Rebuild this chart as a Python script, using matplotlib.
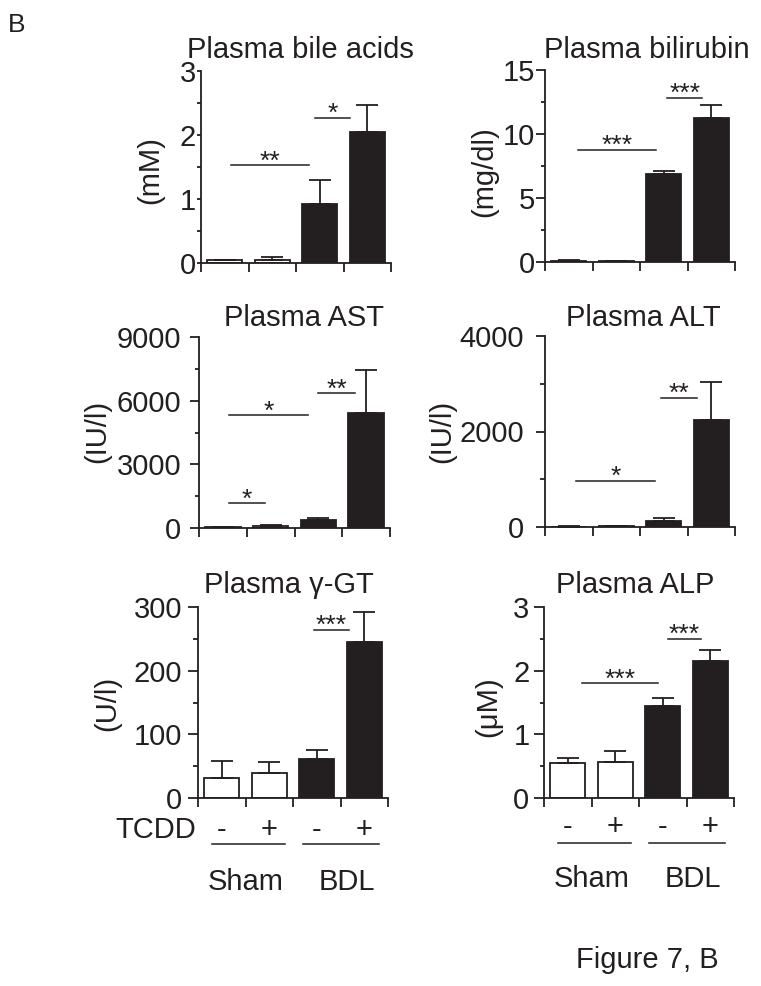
import matplotlib.pyplot as plt
from matplotlib.ticker import MultipleLocator

plt.rcParams['font.family'] = ['Liberation Sans', 'DejaVu Sans']

W, H = 761, 986
INK = '#231f20'
LW = 1.3

# groups: Sham -, Sham +, BDL -, BDL +
groups = ['Sham -', 'Sham +', 'BDL -', 'BDL +']
tcdd_labels = ['-', '+', '-', '+']
bar_colors = ['white', 'white', INK, INK]

titles = ['Plasma bile acids', 'Plasma bilirubin', 'Plasma AST',
          'Plasma ALT', 'Plasma \u03b3-GT', 'Plasma ALP']
units = ['(mM)', '(mg/dl)', '(IU/l)', '(IU/l)', '(U/l)', '(\u03bcM)']
y_max = [3, 15, 9000, 4000, 300, 3]
y_major = [1, 5, 3000, 2000, 100, 1]

bile_mean = [0.04, 0.05, 0.92, 2.04]
bile_err = [0.01, 0.05, 0.37, 0.43]
bili_mean = [0.10, 0.07, 6.87, 11.26]
bili_err = [0.02, 0.02, 0.26, 1.04]
ast_mean = [50, 100, 360, 5440]
ast_err = [20, 30, 130, 1990]
alt_mean = [8, 15, 117, 2246]
alt_err = [3, 5, 63, 787]
ggt_mean = [31.4, 39.9, 61.3, 245]
ggt_err = [27.3, 17.3, 13.7, 46.7]
alp_mean = [0.55, 0.56, 1.45, 2.15]
alp_err = [0.08, 0.185, 0.12, 0.17]

means = [bile_mean, bili_mean, ast_mean, alt_mean, ggt_mean, alp_mean]
errs = [bile_err, bili_err, ast_err, alt_err, ggt_err, alp_err]

# significance bars: (label, x start, x end, height)
sig_bile = [('**', 0.13, 1.77, 1.53), ('*', 1.90, 2.64, 2.27)]
sig_bili = [('***', 0.19, 1.84, 8.78), ('***', 2.07, 2.81, 12.85)]
sig_ast = [('*', 0.12, 0.88, 1180), ('*', 0.12, 1.79, 5310), ('**', 2.0, 2.76, 6360)]
sig_alt = [('*', 0.16, 1.81, 973), ('**', 1.95, 2.70, 2706)]
sig_ggt = [('***', 1.94, 2.68, 264.5)]
sig_alp = [('***', 0.29, 1.91, 1.80), ('***', 2.10, 2.81, 2.50)]
sigs = [sig_bile, sig_bili, sig_ast, sig_alt, sig_ggt, sig_alp]

# layout in pixels: (left, top, width, height)
boxes = [(201, 71, 190, 192), (545, 70, 190, 192),
         (199, 337, 191, 191), (545, 336, 190, 191),
         (198, 607, 190, 191), (544, 607, 190, 191)]
title_pos = [(300, 58), (647, 58), (304, 326), (643, 326), (289, 593), (635, 593)]
unit_pos = [(150, 170), (484, 172), (97, 431), (442, 431), (107, 703), (488, 707)]
major_len_px = [4.5, 9, 9, 9, 10, 10]
minor_len_px = [4.5, 4.5, 4.5, 5.5, 5.5, 4.5]
label_gap_px = [0.5, 1, 9, 12, 6, 4.5]

px = 72 / 100  # pixels -> points at dpi 100
FS = 21

fig = plt.figure(figsize=(W / 100, H / 100), dpi=100)
fig.patch.set_facecolor('white')

x = list(range(len(groups)))
axes = []
for i in range(6):
    l, t, w, h = boxes[i]
    ax = fig.add_axes([l / W, 1 - (t + h) / H, w / W, h / H])
    axes.append(ax)

    ax.bar(x, means[i], width=0.74, color=bar_colors, edgecolor=INK,
           linewidth=LW, zorder=2)
    ax.errorbar(x, means[i], yerr=[[0] * 4, errs[i]], fmt='none',
                ecolor=INK, elinewidth=LW, capsize=8, capthick=LW,
                zorder=3, clip_on=False)

    for lab, x0, x1, yy in sigs[i]:
        ax.plot([x0, x1], [yy, yy], color=INK, lw=1.1, clip_on=False)
        ax.annotate(lab, xy=((x0 + x1) / 2, yy), xytext=(0, -2.5),
                    textcoords='offset points', ha='center', va='baseline',
                    fontsize=19, color=INK)

    ax.set_xlim(-0.5, 3.5)
    ax.set_ylim(0, y_max[i])
    ax.set_xticks([-0.5, 0.5, 1.5, 2.5, 3.5])
    ax.set_xticklabels([])
    ax.yaxis.set_major_locator(MultipleLocator(y_major[i]))
    ax.yaxis.set_minor_locator(MultipleLocator(y_major[i] / 2))
    ax.tick_params(axis='x', length=8.7 * px, width=LW, color=INK)
    ax.tick_params(axis='y', which='major', length=major_len_px[i] * px,
                   width=LW, color=INK, pad=label_gap_px[i] * px,
                   labelsize=FS, labelcolor=INK)
    ax.tick_params(axis='y', which='minor', length=minor_len_px[i] * px,
                   width=LW, color=INK)
    for side in ['top', 'right']:
        ax.spines[side].set_visible(False)
    for side in ['left', 'bottom']:
        ax.spines[side].set_linewidth(LW)
        ax.spines[side].set_color(INK)

    tx, ty = title_pos[i]
    fig.text(tx / W, 1 - ty / H, titles[i], ha='center', va='baseline',
             fontsize=FS, color=INK)
    ux, uy = unit_pos[i]
    fig.text(ux / W, 1 - uy / H, units[i], ha='center', va='center',
             rotation=90, fontsize=FS, color=INK)

# treatment labels under the bottom row
for ax, tcdd_y, line_y, grp_y in [(axes[4], -0.209, -0.242, -0.482),
                                  (axes[5], -0.194, -0.234, -0.464)]:
    tr = ax.get_xaxis_transform()
    for xi, lab in zip(x, tcdd_labels):
        ax.text(xi, tcdd_y, lab, transform=tr, ha='center', va='baseline',
                fontsize=FS, color=INK)
    ax.plot([-0.2, 1.33], [line_y, line_y], transform=tr, color=INK,
            lw=1.1, clip_on=False)
    ax.plot([1.72, 3.3], [line_y, line_y], transform=tr, color=INK,
            lw=1.1, clip_on=False)
    ax.text(0.51, grp_y, 'Sham', transform=tr, ha='center', va='baseline',
            fontsize=FS, color=INK)
    ax.text(2.64, grp_y, 'BDL', transform=tr, ha='center', va='baseline',
            fontsize=FS, color=INK)

fig.text(196.5 / W, 1 - 837.7 / H, 'TCDD', ha='right', va='baseline',
         fontsize=FS, color=INK)
fig.text(8 / W, 1 - 32 / H, 'B', ha='left', va='baseline', fontsize=19,
         color=INK)
fig.text(576 / W, 1 - 968 / H, 'Figure 7, B', ha='left', va='baseline',
         fontsize=FS, color=INK)

fig.savefig('out.png', dpi=100)
